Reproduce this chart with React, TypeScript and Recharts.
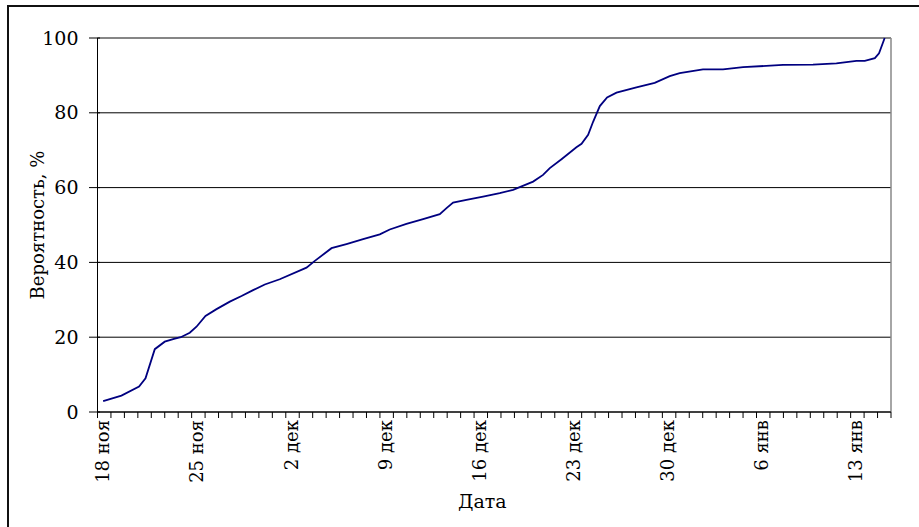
import { CartesianGrid, Line, LineChart, ReferenceLine, XAxis, YAxis } from 'recharts';

// 18 ноя .. 15 янв, one band per day
const dayCount = 59;
const weekLabels = ['18 ноя', '25 ноя', '2 дек', '9 дек', '16 дек', '23 дек', '30 дек', '6 янв', '13 янв'];
const yTicks = [0, 20, 40, 60, 80, 100];

// day offset from the start of 18 ноя
const pointDays = [
  0.42, 1.78, 3.09, 3.57, 4.26, 5.0, 5.75, 6.19, 6.86, 7.36, 8.03, 8.85, 9.84, 10.71, 11.57, 12.44,
  13.55, 15.54, 16.16, 17.4, 18.51, 19.75, 20.99, 21.73, 22.97, 24.21, 25.45, 25.95, 26.44, 27.43,
  28.67, 29.91, 30.9, 32.39, 33.13, 33.63, 34.5, 35.61, 35.99, 36.48, 36.85, 37.35, 37.89, 38.59,
  40.07, 41.43, 42.55, 43.29, 45.02, 46.51, 48.0, 50.97, 53.2, 54.94, 56.43, 57.05, 57.8, 58.11, 58.53,
];
const probability = [
  2.9, 4.4, 6.8, 9.0, 16.8, 18.8, 19.6, 20.0, 21.2, 22.8, 25.7, 27.5, 29.5, 31.0, 32.6, 34.1,
  35.5, 38.6, 40.4, 43.8, 44.9, 46.2, 47.5, 48.8, 50.3, 51.6, 52.9, 54.5, 56.0, 56.7,
  57.6, 58.5, 59.4, 61.6, 63.4, 65.2, 67.6, 70.8, 71.7, 74.1, 77.6, 81.8, 84.1, 85.4,
  86.8, 88.0, 89.8, 90.6, 91.6, 91.6, 92.2, 92.8, 92.9, 93.2, 93.9, 93.9, 94.6, 95.9, 100,
];

const data = pointDays.map((d, i) => ({ day: d, value: probability[i] }));

const dayTicks = Array.from({ length: dayCount + 1 }, (_, i) => i);
const labelTicks = weekLabels.map((_, k) => k * 7 + 0.5);
const xTicks = [...dayTicks, ...labelTicks];

const font = "'DejaVu Serif', serif";

function XTick(props: any) {
  const { x, y, payload } = props;
  const v = payload.value;
  if (Number.isInteger(v)) {
    return <line x1={x} y1={y} x2={x} y2={y + 6} stroke="#000" strokeWidth={1} />;
  }
  const label = weekLabels[Math.round((v - 0.5) / 7)];
  const tx = x + 5;
  const ty = y + 8;
  return (
    <text x={tx} y={ty} transform={`rotate(-90, ${tx}, ${ty})`} textAnchor="end" fill="#000" style={{ fontFamily: font, fontSize: 18 }}>
      {label}
    </text>
  );
}

function YTick(props: any) {
  const { x, y, payload } = props;
  return (
    <g>
      <line x1={x - 8.5} y1={y} x2={x + 2.5} y2={y} stroke="#000" strokeWidth={1} />
      <text x={x - 19} y={y} dy={6.5} textAnchor="end" fill="#000" style={{ fontFamily: font, fontSize: 19 }}>
        {payload.value}
      </text>
    </g>
  );
}

function YTitle(props: any) {
  const { viewBox } = props;
  const cx = 37;
  const cy = viewBox.y + viewBox.height / 2;
  return (
    <text x={cx} y={cy} transform={`rotate(-90, ${cx}, ${cy})`} textAnchor="middle" dy={6.5} fill="#000" style={{ fontFamily: font, fontSize: 18 }}>
      Вероятность, %
    </text>
  );
}

export default function App() {
  return (
    <div style={{ position: 'absolute', left: 0, top: 0, width: 919, height: 527, overflow: 'hidden', background: '#fff', fontFamily: font }}>
      <div style={{ position: 'absolute', left: 7, top: 5, width: 960, height: 600, border: '2px solid #111' }} />
      <div style={{ position: 'absolute', left: 0, top: 0 }}>
        <LineChart width={919} height={527} data={data} margin={{ top: 38, right: 28, bottom: 0, left: 0 }}>
          <CartesianGrid vertical={false} stroke="#000" strokeWidth={1} />
          <XAxis
            dataKey="day"
            type="number"
            domain={[0, dayCount]}
            ticks={xTicks}
            interval={0}
            tickLine={false}
            tickSize={0}
            tickMargin={0}
            tick={XTick}
            height={115}
            stroke="#000"
            allowDataOverflow
            label={{ value: 'Дата', position: 'insideBottom', offset: 19, dx: -12, fill: '#000', fontSize: 19, fontFamily: font }}
          />
          <YAxis
            type="number"
            domain={[0, 100]}
            ticks={yTicks}
            interval={0}
            tickLine={false}
            tickSize={0}
            tickMargin={0}
            tick={YTick}
            width={97.5}
            stroke="#000"
            label={YTitle}
          />
          <ReferenceLine y={100} stroke="#888" strokeWidth={1.5} />
          <ReferenceLine x={dayCount} stroke="#888" strokeWidth={1.5} />
          <Line
            type="linear"
            dataKey="value"
            stroke="#000080"
            strokeWidth={1.8}
            dot={false}
            isAnimationActive={false}
          />
        </LineChart>
      </div>
    </div>
  );
}
